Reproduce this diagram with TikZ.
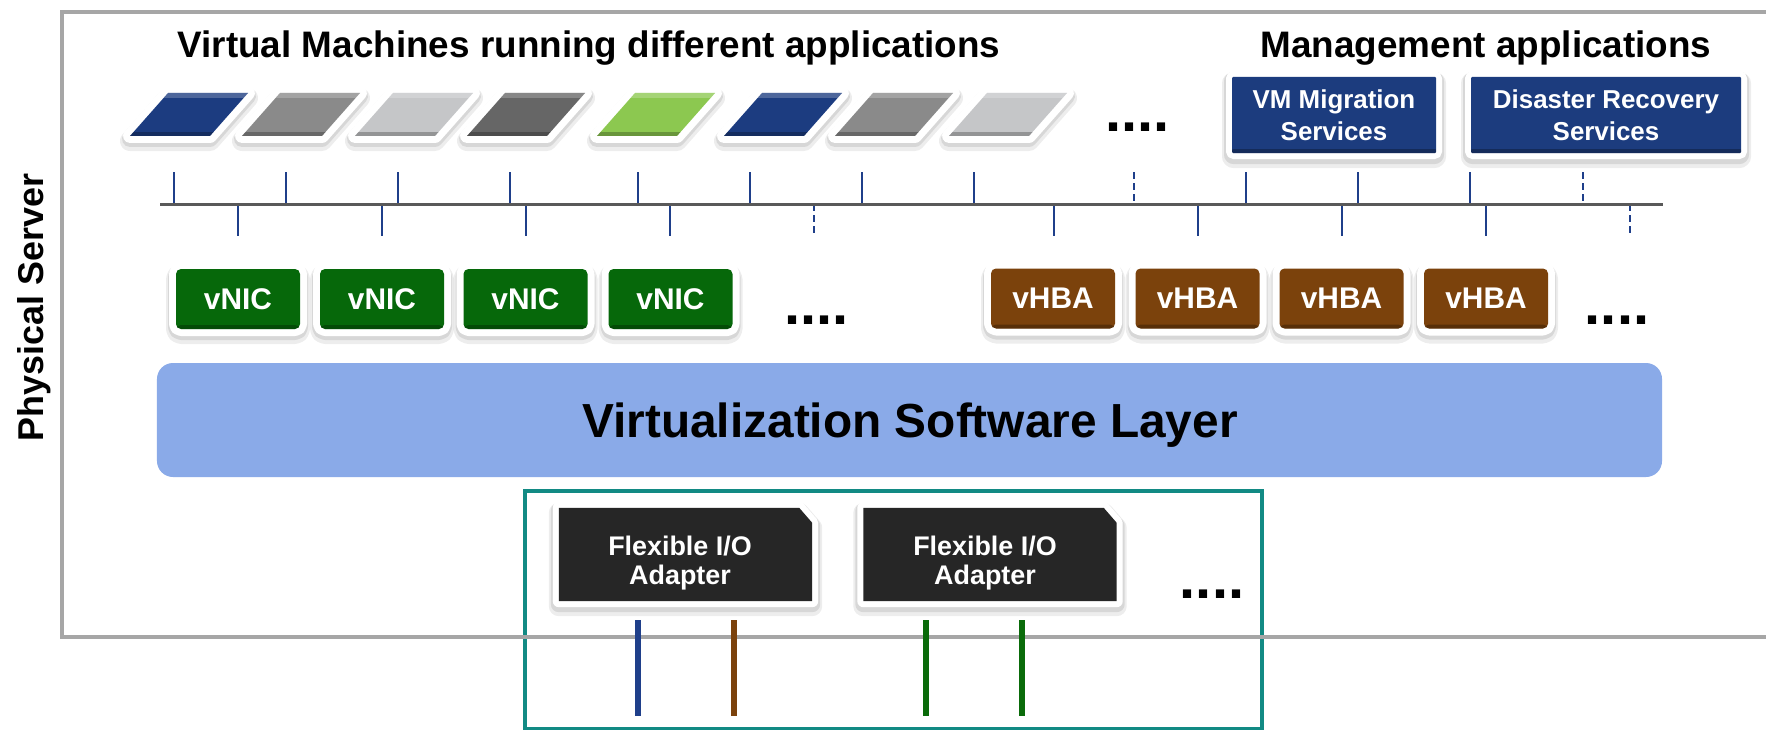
\documentclass[tikz,border=0pt]{standalone}
\usepackage{fontspec}
\setmainfont{Liberation Sans}
\usetikzlibrary{calc}
\definecolor{srvgray}{HTML}{A6A6A6}
\definecolor{busgray}{HTML}{595959}
\definecolor{tickblue}{HTML}{1F3F8A}
\definecolor{vmblue}{HTML}{1C3C80}
\definecolor{vmgray}{HTML}{8A8A8A}
\definecolor{vmlight}{HTML}{C5C6C8}
\definecolor{vmdark}{HTML}{666666}
\definecolor{vmgreen}{HTML}{8CC850}
\definecolor{mgmtblue}{HTML}{1C3C7E}
\definecolor{nicgreen}{HTML}{06680A}
\definecolor{hbabrown}{HTML}{7B420C}
\definecolor{vslblue}{HTML}{8AAAE8}
\definecolor{adapterblack}{HTML}{262626}
\definecolor{tealbox}{HTML}{128A84}
\definecolor{cableblue}{HTML}{1F3F8A}
\definecolor{cablebrown}{HTML}{7B420C}
\definecolor{cablegreen}{HTML}{0A6B0A}
\tikzset{
 softshadow/.style={preaction={draw=black, draw opacity=0.07, line width=20bp, line join=round, transform canvas={yshift=-5bp}},
   preaction={draw=black, draw opacity=0.09, line width=16bp, line join=round, transform canvas={yshift=-3bp}}},
 whiteframe/.style={preaction={draw=white, line width=#1, line join=round}},
 bottomband/.style={path picture={\fill[black, opacity=.28] (path picture bounding box.south west) rectangle ([yshift=4bp]path picture bounding box.south east);}},
 vbox/.style={minimum width=124bp, minimum height=60bp, rounded corners=5bp, inner sep=0pt, text=white, font=\bfseries\fontsize{30}{34}\selectfont, softshadow, whiteframe=14bp, bottomband},
 nicbox/.style={vbox, fill=nicgreen},
 hbabox/.style={vbox, fill=hbabrown},
 mgmtbox/.style={minimum height=76bp, inner sep=0pt, fill=mgmtblue, rounded corners=1bp, softshadow, whiteframe=12bp, bottomband, text=white, align=center, font=\bfseries\fontsize{26}{32}\selectfont},
 heading/.style={font=\bfseries\fontsize{37}{44}\selectfont, inner sep=0pt, anchor=base},
 dots/.style={font=\bfseries\fontsize{58}{60}\selectfont, inner sep=0pt},
 tick/.style={draw=tickblue, line width=2bp},
 dtick/.style={tick, dash pattern=on 7bp off 4bp},
 cable/.style={line width=6bp},
 adapterframe/.style={minimum width=253bp, minimum height=93bp, inner sep=0pt},
 adaptertext/.style={text=white, align=center, inner sep=0pt, font=\bfseries\fontsize{27}{30}\selectfont},
}
\newcommand\VMpar[3]{%
 \coordinate (#1) at #2;
 \path[softshadow, whiteframe=14bp, fill=#3] ($(#1)+(-21,-21.5)$) -- ($(#1)+(59,-21.5)$) -- ($(#1)+(21,21.5)$) -- ($(#1)+(-59,21.5)$) -- cycle;
 \begin{scope}
 \clip ($(#1)+(-21,-21.5)$) -- ($(#1)+(59,-21.5)$) -- ($(#1)+(21,21.5)$) -- ($(#1)+(-59,21.5)$) -- cycle;
 \fill[white, opacity=.22] ($(#1)+(-70,-21.5)$) rectangle ($(#1)+(70,-16.5)$);
 \fill[black, opacity=.25] ($(#1)+(-70,17.5)$) rectangle ($(#1)+(70,21.5)$);
 \end{scope}}
\begin{document}
\begin{tikzpicture}[x=1bp, y=-1bp]
\useasboundingbox (0,0) rectangle (1766,730);
\clip (0,0) rectangle (1766,730);
\fill[white] (0,0) rectangle (1766,730);

% teal adapter enclosure and physical server frame
\node[draw=tealbox, line width=4bp, minimum width=737bp, minimum height=238bp, inner sep=0pt] (fiobox) at (893.5,610) {};
\node[draw=srvgray, line width=4bp, minimum width=1728bp, minimum height=625bp, inner sep=0pt] (server) at (926,324.5) {};
\node[font=\bfseries\fontsize{36}{40}\selectfont, rotate=90, anchor=base, inner sep=0pt] (srvlabel) at (43,307.5) {Physical Server};

% headings
\node[heading] (vmhead) at (589,58) {Virtual Machines running different applications};
\node[heading] (mgmthead) at (1486,57.5) {Management applications};

% virtual machines
\VMpar{vm1}{(189,114.5)}{vmblue}
\VMpar{vm2}{(301,114.5)}{vmgray}
\VMpar{vm3}{(414,114.5)}{vmlight}
\VMpar{vm4}{(526,114.5)}{vmdark}
\VMpar{vm5}{(656,114.5)}{vmgreen}
\VMpar{vm6}{(783,114.5)}{vmblue}
\VMpar{vm7}{(894,114.5)}{vmgray}
\VMpar{vm8}{(1008,114.5)}{vmlight}
\node[dots] (vmdots) at (1137.5,127) {....};

% management applications
\node[mgmtbox, minimum width=204bp] (vmm) at (1334,115) {VM Migration\\Services};
\node[mgmtbox, minimum width=270bp] (drs) at (1606,115) {Disaster Recovery\\Services};

% ticks and bus
\foreach \x/\s [count=\i] in {174/tick,286/tick,398/tick,510/tick,638/tick,750/tick,862/tick,974/tick,1134/dtick,1246/tick,1358/tick,1470/tick,1583/dtick}{
 \coordinate (ut\i) at (\x,172);
 \coordinate (ub\i) at (\x,204);
 \draw[\s] (ut\i) -- (ub\i);
}
\foreach \x/\s [count=\i] in {238/tick,382/tick,526/tick,670/tick,814/dtick,1054/tick,1198/tick,1342/tick,1486/tick,1630/dtick}{
 \coordinate (lt\i) at (\x,204);
 \coordinate (lb\i) at (\x,236);
 \draw[\s] (lt\i) -- (lb\i);
}
\coordinate (busL) at (160,204);
\coordinate (busR) at (1663,204);
\draw[busgray, line width=3bp] (busL) -- (busR);

% vNICs and vHBAs
\node[nicbox] (nic1) at (238,299) {vNIC};
\node[nicbox] (nic2) at (382,299) {vNIC};
\node[nicbox] (nic3) at (525.5,299) {vNIC};
\node[nicbox] (nic4) at (670.5,299) {vNIC};
\node[dots] (nicdots) at (816.5,320) {....};
\node[hbabox] (hba1) at (1053,298.5) {vHBA};
\node[hbabox] (hba2) at (1197.5,298.5) {vHBA};
\node[hbabox] (hba3) at (1341.5,298.5) {vHBA};
\node[hbabox] (hba4) at (1486,298.5) {vHBA};
\node[dots] (hbadots) at (1617,320.5) {....};

% virtualization layer
\node[fill=vslblue, rounded corners=16bp, minimum width=1505bp, minimum height=114bp, inner sep=0pt] (vsl) at (909.5,420) {};
\node[font=\bfseries\fontsize{48}{56}\selectfont, inner sep=0pt, anchor=base] (vsltext) at (910,437) {Virtualization Software Layer};

% flexible I/O adapters
\node[adapterframe] (fio1) at (685.5,554.5) {};
\node[adapterframe] (fio2) at (990,554.5) {};
\foreach \n in {fio1,fio2}{
 \path[softshadow, whiteframe=12bp, fill=adapterblack] (\n.south west) -- (\n.north west) -- ([xshift=-13bp]\n.north east) -- ([yshift=-15bp]\n.north east) -- (\n.south east) -- cycle;
}
\node[adaptertext] (fio1text) at (680,563) {Flexible I/O\\Adapter};
\node[adaptertext] (fio2text) at (985,563) {Flexible I/O\\Adapter};
\node[dots] (fiodots) at (1212,594) {....};

% cables
\coordinate (cab1t) at (638,620); \coordinate (cab1b) at (638,716);
\coordinate (cab2t) at (734,620); \coordinate (cab2b) at (734,716);
\coordinate (cab3t) at (926,620); \coordinate (cab3b) at (926,716);
\coordinate (cab4t) at (1022,620); \coordinate (cab4b) at (1022,716);
\draw[cable, cableblue] (cab1t) -- (cab1b);
\draw[cable, cablebrown] (cab2t) -- (cab2b);
\draw[cable, cablegreen] (cab3t) -- (cab3b);
\draw[cable, cablegreen] (cab4t) -- (cab4b);
\end{tikzpicture}
\end{document}
